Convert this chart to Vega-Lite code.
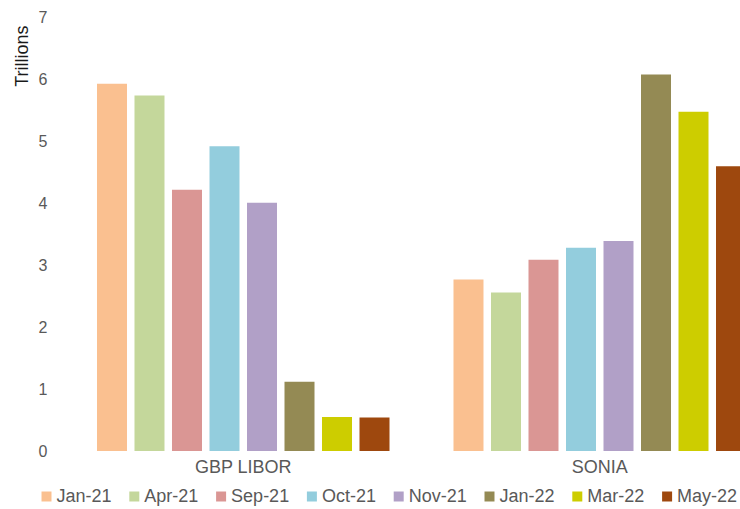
{
  "$schema": "https://vega.github.io/schema/vega-lite/v6.json",
  "width": 675,
  "height": 433.5,
  "autosize": {"type": "none"},
  "padding": {"left": 65, "top": 17.5, "right": 0, "bottom": 58},
  "background": "white",
  "config": {
    "view": {"stroke": null},
    "font": "Liberation Sans",
    "axis": {"labelFont": "Liberation Sans", "titleFont": "Liberation Sans"},
    "legend": {"labelFont": "Liberation Sans"}
  },
  "data": {
    "values": [
      {"group": "GBP LIBOR", "month": "Jan-21", "value": 5.93},
      {"group": "GBP LIBOR", "month": "Apr-21", "value": 5.74},
      {"group": "GBP LIBOR", "month": "Sep-21", "value": 4.22},
      {"group": "GBP LIBOR", "month": "Oct-21", "value": 4.92},
      {"group": "GBP LIBOR", "month": "Nov-21", "value": 4.01},
      {"group": "GBP LIBOR", "month": "Jan-22", "value": 1.12},
      {"group": "GBP LIBOR", "month": "Mar-22", "value": 0.55},
      {"group": "GBP LIBOR", "month": "May-22", "value": 0.54},
      {"group": "SONIA", "month": "Jan-21", "value": 2.77},
      {"group": "SONIA", "month": "Apr-21", "value": 2.56},
      {"group": "SONIA", "month": "Sep-21", "value": 3.09},
      {"group": "SONIA", "month": "Oct-21", "value": 3.28},
      {"group": "SONIA", "month": "Nov-21", "value": 3.39},
      {"group": "SONIA", "month": "Jan-22", "value": 6.08},
      {"group": "SONIA", "month": "Mar-22", "value": 5.48},
      {"group": "SONIA", "month": "May-22", "value": 4.6}
    ]
  },
  "mark": {"type": "bar", "clip": true},
  "encoding": {
    "x": {
      "field": "group",
      "type": "nominal",
      "scale": {"range": [0, 713], "paddingInner": 0, "paddingOuter": 0},
      "axis": {
        "title": null,
        "labelAngle": 0,
        "ticks": false,
        "domain": false,
        "labelPadding": 7,
        "labelFontSize": 18,
        "labelColor": "#595959"
      }
    },
    "xOffset": {
      "field": "month",
      "type": "nominal",
      "sort": ["Jan-21", "Apr-21", "Sep-21", "Oct-21", "Nov-21", "Jan-22", "Mar-22", "May-22"],
      "scale": {"paddingInner": 0.2, "paddingOuter": 0.853}
    },
    "y": {
      "field": "value",
      "type": "quantitative",
      "scale": {"domain": [0, 7], "nice": false},
      "axis": {
        "values": [0, 1, 2, 3, 4, 5, 6, 7],
        "grid": false,
        "domain": false,
        "ticks": false,
        "labelPadding": 18,
        "labelFontSize": 16,
        "labelColor": "#595959",
        "title": "Trillions",
        "titleFontSize": 18,
        "titleFontWeight": "normal",
        "titleColor": "#1a1a1a",
        "titleAngle": 270,
        "titleAlign": "right",
        "titleBaseline": "alphabetic",
        "titleX": -38,
        "titleY": 7.5
      }
    },
    "color": {
      "field": "month",
      "type": "nominal",
      "sort": ["Jan-21", "Apr-21", "Sep-21", "Oct-21", "Nov-21", "Jan-22", "Mar-22", "May-22"],
      "scale": {
        "domain": ["Jan-21", "Apr-21", "Sep-21", "Oct-21", "Nov-21", "Jan-22", "Mar-22", "May-22"],
        "range": ["#FAC090", "#C4D79B", "#DA9694", "#93CDDD", "#B1A0C7", "#948A54", "#CDCD00", "#9E480E"]
      },
      "legend": {
        "title": null,
        "orient": "none",
        "direction": "horizontal",
        "columns": 8,
        "legendX": -27.5,
        "legendY": 470,
        "symbolType": "square",
        "symbolSize": 100,
        "symbolStrokeWidth": 0,
        "labelFontSize": 18,
        "labelColor": "#595959",
        "labelOffset": 1,
        "columnPadding": 12.8,
        "padding": 0
      }
    }
  }
}
